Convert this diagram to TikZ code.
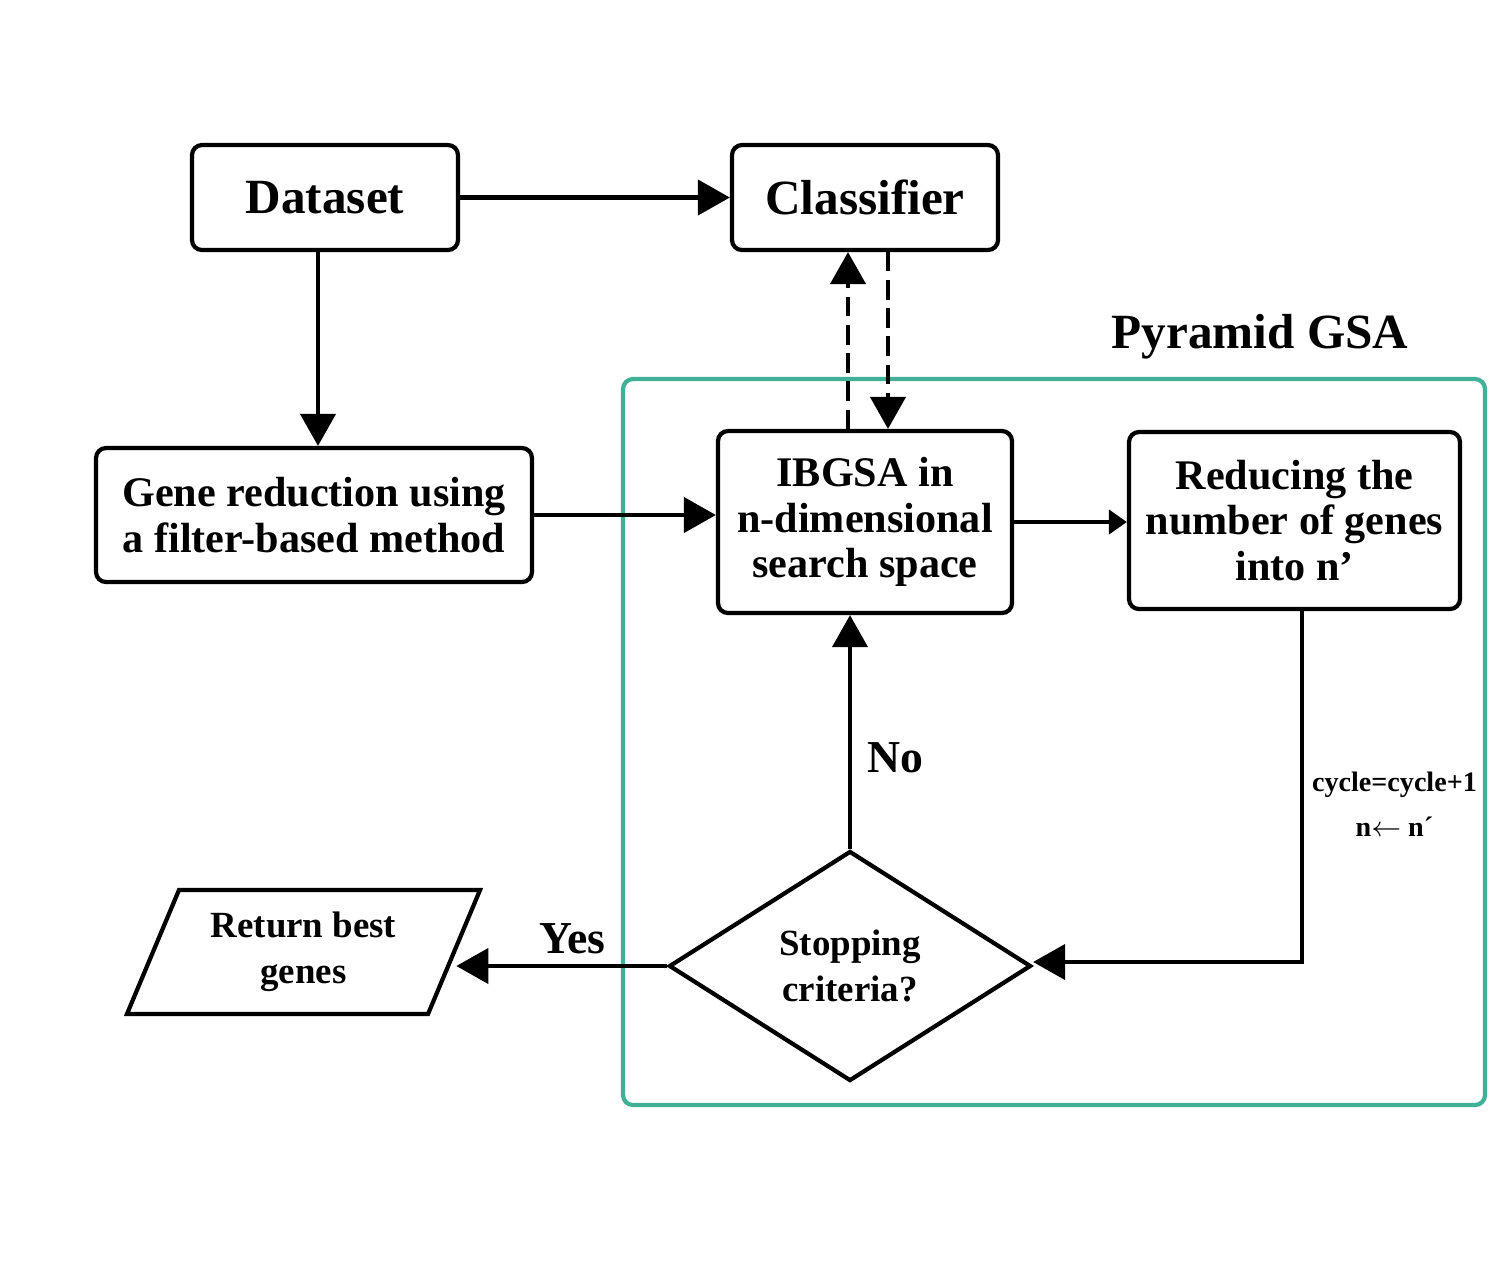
\documentclass[tikz,border=0pt]{standalone}
\usepackage{fontspec}
\setmainfont{Liberation Serif}
\usetikzlibrary{arrows.meta, positioning, shapes.geometric}
\definecolor{gsagreen}{RGB}{64,176,152}

\begin{document}
\begin{tikzpicture}[
  box/.style={draw, line width=1.2pt, rounded corners=0.1cm, align=center,
    inner sep=0pt, font=\bfseries\fontsize{12}{13}\selectfont},
  bigbox/.style={box, font=\bfseries\fontsize{14}{16}\selectfont},
  arr/.style={line width=1.2pt, -{Triangle[length=0.32cm, width=0.35cm]}},
  smallarr/.style={line width=1.2pt, -{Triangle[length=0.18cm, width=0.24cm]}},
  dasharr/.style={arr, dash pattern=on 5.5pt off 2.5pt},
  lbl/.style={font=\bfseries\fontsize{13}{15}\selectfont, inner sep=0pt}
]
  \useasboundingbox (0,0) rectangle (15,-12.63);

  % Pyramid GSA frame
  \node[draw=gsagreen, line width=1.2pt, rounded corners=0.1cm,
    minimum width=8.62cm, minimum height=7.26cm] (pyr) at (10.54,-7.42) {};
  \node[font=\bfseries\fontsize{14}{16}\selectfont] (pgsa) at (12.6,-3.37) {Pyramid GSA};

  % Boxes
  \node[bigbox, minimum width=2.66cm, minimum height=1.05cm] (data) at (3.25,-1.975) {Dataset};
  \node[bigbox, minimum width=2.66cm, minimum height=1.05cm] (cls) at (8.65,-1.975) {Classifier};
  \node[box, minimum width=4.36cm, minimum height=1.34cm] (gene) at (3.14,-5.15)
    {Gene reduction using\\a filter-based method};
  \node[box, minimum width=2.94cm, minimum height=1.82cm] (ibg) at (8.65,-5.22)
    {IBGSA in\\n-dimensional\\search space};
  \node[box, minimum width=3.31cm, minimum height=1.77cm] (red) at (12.945,-5.205)
    {Reducing the\\number of genes\\into n’};

  % Decision and output
  \node[diamond, draw, line width=1.2pt, minimum width=3.62cm, minimum height=2.3cm,
    inner sep=0pt, align=center, font=\bfseries\fontsize{10.5}{13}\selectfont]
    (stop) at (8.5,-9.66) {Stopping\\criteria?};
  \node[trapezium, trapezium left angle=64, trapezium right angle=116,
    trapezium stretches=true, draw, line width=1.2pt, inner sep=0pt, align=center,
    minimum width=3.55cm, minimum height=1.24cm,
    font=\bfseries\fontsize{10.5}{13}\selectfont] (ret) at (3.035,-9.52) {Return best\\genes};

  % Connectors
  \draw[arr] (data.east) -- (cls.west);
  \draw[arr] ([xshift=-0.07cm]data.south) -- ([xshift=-0.07cm]data.south |- gene.north);
  \draw[arr] (gene.east) -- (gene.east -| ibg.west);
  \draw[smallarr] (ibg.east) -- (ibg.east -| red.west);
  \draw[dasharr] ([xshift=-0.17cm]ibg.north) -- ([xshift=-0.17cm]cls.south);
  \draw[dasharr] ([xshift=0.23cm]cls.south) -- ([xshift=0.23cm]ibg.north);
  \draw[arr] ([xshift=0.075cm]red.south) |- node[pos=0.275, right=0.08cm, inner sep=0pt, align=center,
    font=\bfseries\fontsize{8}{13}\selectfont] (cyc) {cycle=cycle+1\\n$\leftarrow$ n´} ([yshift=0.04cm]stop.east);
  \draw[arr] (stop.north) -- node[pos=0.39, right=0.15cm, lbl] (no) {No} (stop.north |- ibg.south);
  \draw[arr] (stop.west) -- node[pos=0.45, above=0.1cm, lbl] (yes) {Yes} (stop.west -| ret.east);
\end{tikzpicture}
\end{document}
